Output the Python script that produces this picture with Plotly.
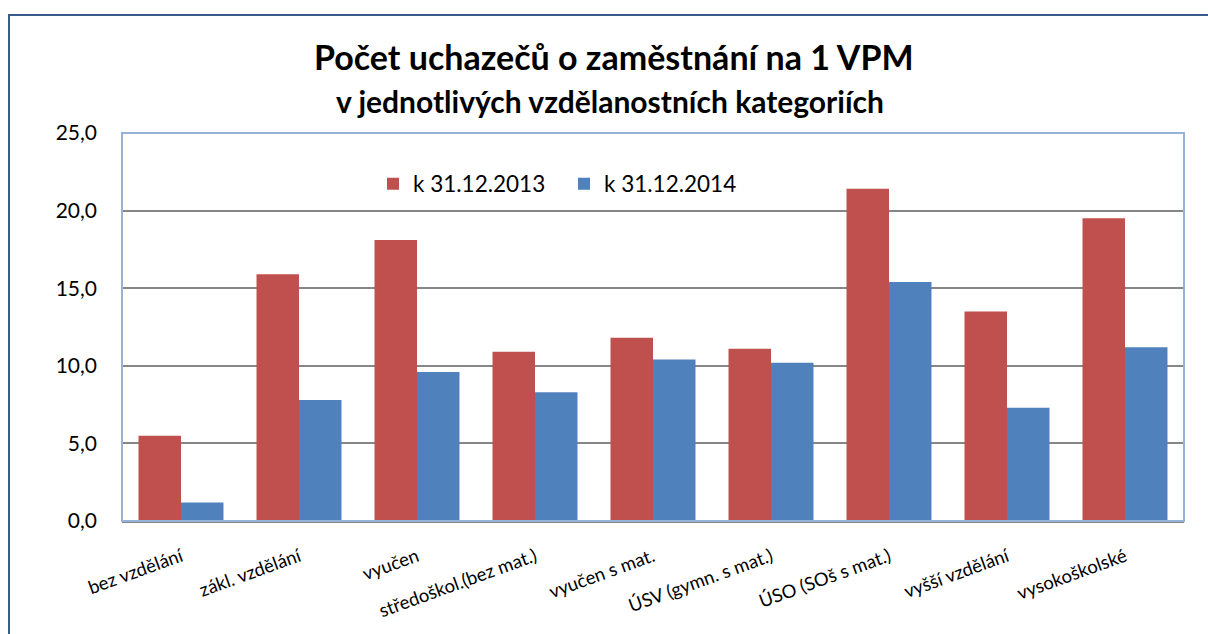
import plotly.graph_objects as go

categories = ["bez vzdělání", "zákl. vzdělání", "vyučen", "středoškol.(bez mat.)",
              "vyučen s mat.", "ÚSV (gymn. s mat.)", "ÚSO (SOš s mat.)",
              "vyšší vzdělání", "vysokoškolské"]
values_2013 = [5.5, 15.9, 18.1, 10.9, 11.8, 11.1, 21.4, 13.5, 19.5]
values_2014 = [1.2, 7.8, 9.6, 8.3, 10.4, 10.2, 15.4, 7.3, 11.2]
series_names = ["k 31.12.2013", "k 31.12.2014"]
y_ticks = [0, 5, 10, 15, 20, 25]
y_tick_labels = ["0,0", "5,0", "10,0", "15,0", "20,0", "25,0"]

FONT = "Lato, Carlito, Calibri, sans-serif"

fig = go.Figure()
fig.add_trace(go.Bar(x=categories, y=values_2013, name=series_names[0],
                     marker=dict(color="#C0504D", line=dict(width=0))))
fig.add_trace(go.Bar(x=categories, y=values_2014, name=series_names[1],
                     marker=dict(color="#4F81BD", line=dict(width=0))))

W, H = 1208, 634
L, R, T, B = 122, 24, 133, 113
pw, ph = W - L - R, H - T - B

def px_x(px):
    return (px - L) / pw

def px_y(py):
    return (H - B - py) / ph

fig.update_layout(
    width=W, height=H,
    margin=dict(l=L, r=R, t=T, b=B),
    paper_bgcolor="white", plot_bgcolor="white",
    font=dict(family=FONT, color="black"),
    barmode="group", bargap=0.28, bargroupgap=0,
    showlegend=True,
    legend=dict(orientation="h", x=px_x(373), y=px_y(184), xanchor="left", yanchor="middle",
                font=dict(size=22.5, family=FONT), bgcolor="rgba(0,0,0,0)",
                itemwidth=30, traceorder="normal",
                entrywidth=146, entrywidthmode="pixels"),
    xaxis=dict(showgrid=False, showline=True, linecolor="#868686", linewidth=2,
               tickangle=-20, tickfont=dict(size=18.5, family=FONT), ticks="",
               ticklabelstandoff=16, range=[-0.5, 8.5], fixedrange=True),
    yaxis=dict(range=[0, 25], tickvals=y_ticks, ticktext=y_tick_labels,
               showgrid=True, gridcolor="#868686", gridwidth=2,
               tickfont=dict(size=21, family=FONT), ticks="", ticklabelstandoff=24,
               zeroline=False, showline=False, fixedrange=True),
    annotations=[
        dict(text="<b>Počet uchazečů o zaměstnání na 1 VPM</b>", xref="paper", yref="paper",
             x=px_x(614), y=px_y(56), xanchor="center", yanchor="middle", showarrow=False,
             font=dict(size=34, family=FONT, color="black")),
        dict(text="<b>v jednotlivých vzdělanostních kategoriích</b>", xref="paper", yref="paper",
             x=px_x(610), y=px_y(101), xanchor="center", yanchor="middle", showarrow=False,
             font=dict(size=30, family=FONT, color="black")),
    ],
    shapes=[
        dict(type="rect", xref="paper", yref="paper", x0=0, x1=1, y0=0, y1=1,
             line=dict(color="#95B3D7", width=2), layer="above"),
        dict(type="rect", xref="paper", yref="paper", x0=px_x(9), x1=px_x(1215),
             y0=px_y(645), y1=px_y(15), line=dict(color="#385D8A", width=2), layer="above"),
    ],
)

fig.write_html("out.html", config={"displayModeBar": False},
               post_script="document.body.style.margin='0';document.body.style.overflow='hidden';")
